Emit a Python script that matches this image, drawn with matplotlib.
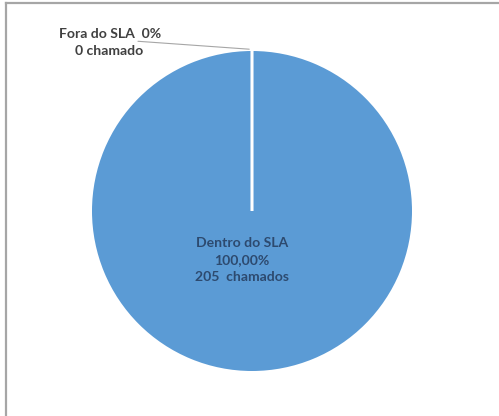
import matplotlib
matplotlib.use("Agg")
import matplotlib.pyplot as plt
from matplotlib.lines import Line2D
import numpy as np

# data
categorias = ["Dentro do SLA", "Fora do SLA"]
chamados = [205, 0]
percentuais = ["100,00%", "0%"]

plt.rcParams['font.family'] = ['Lato', 'DejaVu Sans']

fig = plt.figure(figsize=(4.99, 4.16), dpi=100)
fig.patch.set_facecolor('white')

# chart area border (only top and left visible in the crop)
fig.add_artist(Line2D([5.5 / 499, 5.5 / 499], [0, 1 - 2.5 / 416],
                      transform=fig.transFigure, color='#a6a6a6', lw=1.6))
fig.add_artist(Line2D([5.5 / 499, 1], [1 - 2.5 / 416, 1 - 2.5 / 416],
                      transform=fig.transFigure, color='#a6a6a6', lw=1.6))

# axes placed so that the pie sits at (252, 211) px with radius 160 px
cx, cy, r = 252, 211, 160
ax = fig.add_axes([(cx - r) / 499, (416 - cy - r) / 416, 2 * r / 499, 2 * r / 416])

wedges, _ = ax.pie(chamados, colors=['#5b9bd5', '#ed7d31'],
                   startangle=90, counterclock=False, radius=1,
                   wedgeprops=dict(linewidth=0))
# the empty slice only shows up as a white border line
wedges[1].set_edgecolor('white')
wedges[1].set_linewidth(2.2)
wedges[1].set_zorder(3)

ax.set_xlim(-1, 1)
ax.set_ylim(-1, 1)
ax.axis('off')

# inside label
ax.text(-0.0625, -0.308,
        f"{categorias[0]}\n{percentuais[0]}\n{chamados[0]}  chamados",
        ha='center', va='center', fontsize=10.1, fontweight='bold',
        color='#2d4a6f', linespacing=1.5)

# outside label with leader line
ang = np.deg2rad(wedges[1].theta1)
ax.annotate('', xy=(1.01 * np.cos(ang), 1.01 * np.sin(ang)),
            xytext=(-0.73, 1.062),
            arrowprops=dict(arrowstyle='-', color='#a6a6a6', lw=0.8),
            annotation_clip=False)
ax.text(-0.89, 1.056,
        f"{categorias[1]}  {percentuais[1]}\n{chamados[1]} chamado",
        ha='center', va='center', fontsize=10.1, fontweight='bold',
        color='#404040', linespacing=1.5, clip_on=False)

fig.savefig('out.png', dpi=100, facecolor='white')
